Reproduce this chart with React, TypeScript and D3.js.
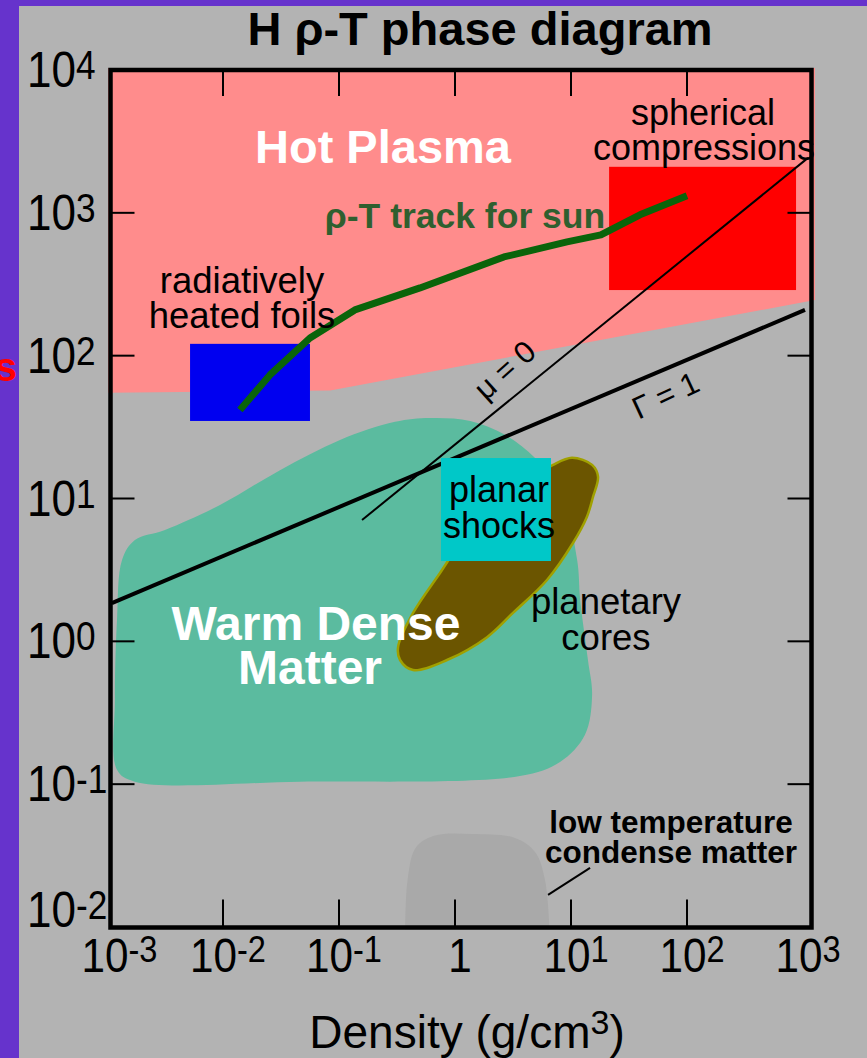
import React from 'react';
import * as d3 from 'd3';

// axes
const densityTicks = [1e-3, 1e-2, 1e-1, 1, 1e1, 1e2, 1e3];
const tempTicks = [1e-2, 1e-1, 1, 1e1, 1e2, 1e3, 1e4];

// regions, [density g/cm3, temperature]
const hotPlasma: [number, number][] = [
  [0.0009, 1.2e4], [1300, 1.2e4], [1300, 246], [0.084, 57], [0.0009, 55],
];
const warmDense: [number, number][] = [
  [0.00174, 5.12], [0.00135, 3.73], [0.00122, 1.41], [0.00117, 0.39], [0.00122, 0.126],
  [0.00174, 0.104], [0.0461, 0.104], [3.63, 0.114], [8.04, 0.143], [13.2, 0.222],
  [15.2, 0.423], [14.0, 0.74], [12.0, 1.95], [11.3, 3.71], [8.04, 11.5],
  [4.9, 19.2], [2.7, 27.9], [1.35, 34.9], [0.609, 36.6], [0.304, 34.4],
  [0.102, 25.7], [0.031, 15.8], [0.00942, 9.01], [0.00316, 6.02],
];
const planetaryCores: [number, number][] = [
  [10.2, 19.3], [15.2, 17.2], [17.1, 14.2], [15.5, 10.3], [13.7, 7.42],
  [10.4, 4.88], [6.21, 2.69], [3.16, 1.58], [1.89, 1.07], [0.853, 0.74],
  [0.435, 0.63], [0.336, 0.74], [0.323, 0.912], [0.435, 1.58], [0.743, 3.01],
  [1.17, 5.12], [2.3, 8.71], [4.43, 13.5], [7.0, 17.2],
];
const lowTempMatter: [number, number][] = [
  [0.371, 0.008], [0.39, 0.0213], [0.46, 0.036], [0.66, 0.0435], [1.4, 0.0448],
  [3.29, 0.042], [4.9, 0.0335], [5.97, 0.0213], [6.59, 0.008],
];

// experimental boxes: [rho0, rho1, T0, T1]
const radiativeFoils = [0.0052, 0.0562, 34.9, 121];
const sphericalComp = [21.3, 871, 288, 2100];
const planarShocks = [0.757, 6.72, 3.65, 19.2];

// solar track
const sunTrack: [number, number][] = [
  [0.014, 41.7], [0.0254, 73.3], [0.0562, 133], [0.137, 209], [0.499, 298],
  [2.64, 491], [9.24, 626], [18.1, 701], [39.3, 968], [100, 1315],
];

// boundary lines
const muZero: [number, number][] = [[0.158, 7.07], [1104, 2425]];
const gammaOne: [number, number][] = [[0.0011, 1.85], [1040, 209]];
const lowTempPointer: [number, number][] = [[6.34, 0.0168], [14.6, 0.0259]];

const W = 867;
const H = 1058;
const frame = { left: 110.5, right: 811.5, top: 70, bottom: 927.5 };
const FONT = '"Liberation Sans", Arial, Helvetica, sans-serif';

const x = d3.scaleLog().domain([1e-3, 1e3]).range([107, 803]);
const y = d3.scaleLog().domain([1e-2, 1e4]).range([927, 70]);

const area = d3.line<[number, number]>()
  .x(d => x(d[0]))
  .y(d => y(d[1]))
  .curve(d3.curveCatmullRomClosed.alpha(0.5));
const poly = d3.line<[number, number]>().x(d => x(d[0])).y(d => y(d[1]));
const smooth = d3.line<[number, number]>().x(d => x(d[0])).y(d => y(d[1])).curve(d3.curveCatmullRom.alpha(0.5));

const boxRect = (b: number[], fill: string) => (
  <rect x={x(b[0])} y={y(b[3])} width={x(b[1]) - x(b[0])} height={y(b[2]) - y(b[3])} fill={fill} />
);

const expOf = (v: number) => Math.round(Math.log10(v));
const expLabel = (e: number) => (e < 0 ? '-' + -e : String(e));

export default function App() {
  return (
    <svg width={W} height={H} style={{ position: 'absolute', left: 0, top: 0, display: 'block' }} fontFamily={FONT}>
      <defs>
        <clipPath id="plot">
          <rect x={108} y={68} width={707} height={862} />
        </clipPath>
      </defs>
      <rect width={W} height={H} fill="#b3b3b3" />
      <rect width={19} height={H} fill="#6633cc" />
      <rect width={W} height={6} fill="#6633cc" />
      <text x={17} y={381} textAnchor="end" fontSize={40} fontWeight="bold" fill="#ff0000">s</text>

      <g clipPath="url(#plot)">
        <path d={poly(hotPlasma)! + 'Z'} fill="#ff8c8c" />
        <path d={area(warmDense)!} fill="#5bbb9f" />
        <path d={smooth(lowTempMatter)! + 'Z'} fill="#a9a9a9" />
        <path d={area(planetaryCores)!} fill="#6b5500" stroke="#a0a000" strokeWidth={2.5} />
        {boxRect(sphericalComp, '#ff0000')}
        {boxRect(radiativeFoils, '#0000f0')}
        <path d={poly(gammaOne)!} stroke="#000" strokeWidth={4} fill="none" />
        <path d={poly(muZero)!} stroke="#000" strokeWidth={2} fill="none" />
        <path d={poly(lowTempPointer)!} stroke="#000" strokeWidth={2} fill="none" />
        {boxRect(planarShocks, '#00c8c8')}
        <path d={poly(sunTrack)!} stroke="#0a640a" strokeWidth={7} fill="none" strokeLinejoin="round" />
      </g>

      {/* ticks */}
      <g stroke="#000" strokeWidth={2}>
        {densityTicks.slice(1, -1).map(v => (
          <g key={'xt' + v}>
            <line x1={x(v)} x2={x(v)} y1={frame.bottom} y2={frame.bottom - 28} />
            <line x1={x(v)} x2={x(v)} y1={frame.top} y2={frame.top + 26} />
          </g>
        ))}
        {tempTicks.slice(1, -1).map(v => (
          <g key={'yt' + v}>
            <line x1={frame.left} x2={frame.left + 24} y1={y(v)} y2={y(v)} />
            <line x1={frame.right} x2={frame.right - 24} y1={y(v)} y2={y(v)} />
          </g>
        ))}
      </g>
      <rect x={frame.left} y={frame.top} width={frame.right - frame.left} height={frame.bottom - frame.top}
        fill="none" stroke="#000" strokeWidth={4.5} />

      {/* tick labels */}
      {densityTicks.map(v => {
        const e = expOf(v);
        const cx = Math.min(Math.max(x(v) + 5, frame.left + 9), frame.right + 4);
        return (
          <text key={'xl' + v} transform={`translate(${cx},972) scale(0.88,1)`} textAnchor="middle" fontSize={48}>
            {e === 0 ? '1' : <>10<tspan dy={-10} fontSize={37}>{expLabel(e)}</tspan></>}
          </text>
        );
      })}
      {tempTicks.map(v => {
        const e = expOf(v);
        const by = Math.min(y(v) + 17, 927);
        return (
          <text key={'yl' + v} transform={`translate(27,${by}) scale(0.88,1)`} fontSize={50}>
            10<tspan dy={-8} fontSize={40}>{expLabel(e)}</tspan>
          </text>
        );
      })}

      {/* titles */}
      <text x={480} y={45} textAnchor="middle" fontSize={47} fontWeight="bold">H ρ-T phase diagram</text>
      <text x={467} y={1048} textAnchor="middle" fontSize={46}>
        Density (g/cm<tspan dy={-14} fontSize={34}>3</tspan><tspan dy={14}>)</tspan>
      </text>

      {/* annotations */}
      <text x={383} y={163} textAnchor="middle" fontSize={47} fontWeight="bold" fill="#fff">Hot Plasma</text>
      <text x={703} y={125} textAnchor="middle" fontSize={36}>spherical</text>
      <text x={704} y={160} textAnchor="middle" fontSize={36}>compressions</text>
      <text x={465} y={228} textAnchor="middle" fontSize={35.5} fontWeight="bold" fill="#2f5f2f">ρ-T track for sun</text>
      <text x={242} y={293} textAnchor="middle" fontSize={36.5}>radiatively</text>
      <text x={242} y={328} textAnchor="middle" fontSize={36.5}>heated foils</text>
      <text transform="translate(512,378) rotate(-42)" textAnchor="middle" fontSize={31}>μ = 0</text>
      <text transform="translate(670,405) rotate(-25)" textAnchor="middle" fontSize={31}>Γ = 1</text>
      <text x={499} y={502} textAnchor="middle" fontSize={36}>planar</text>
      <text x={499} y={538} textAnchor="middle" fontSize={36}>shocks</text>
      <text x={606} y={614} textAnchor="middle" fontSize={36.5}>planetary</text>
      <text x={606} y={650} textAnchor="middle" fontSize={36.5}>cores</text>
      <text x={316} y={640} textAnchor="middle" fontSize={48} fontWeight="bold" fill="#fff">Warm Dense</text>
      <text x={310} y={684} textAnchor="middle" fontSize={48} fontWeight="bold" fill="#fff">Matter</text>
      <text x={671} y={833} textAnchor="middle" fontSize={31.5} fontWeight="bold">low temperature</text>
      <text x={671} y={863} textAnchor="middle" fontSize={31.5} fontWeight="bold">condense matter</text>
    </svg>
  );
}
